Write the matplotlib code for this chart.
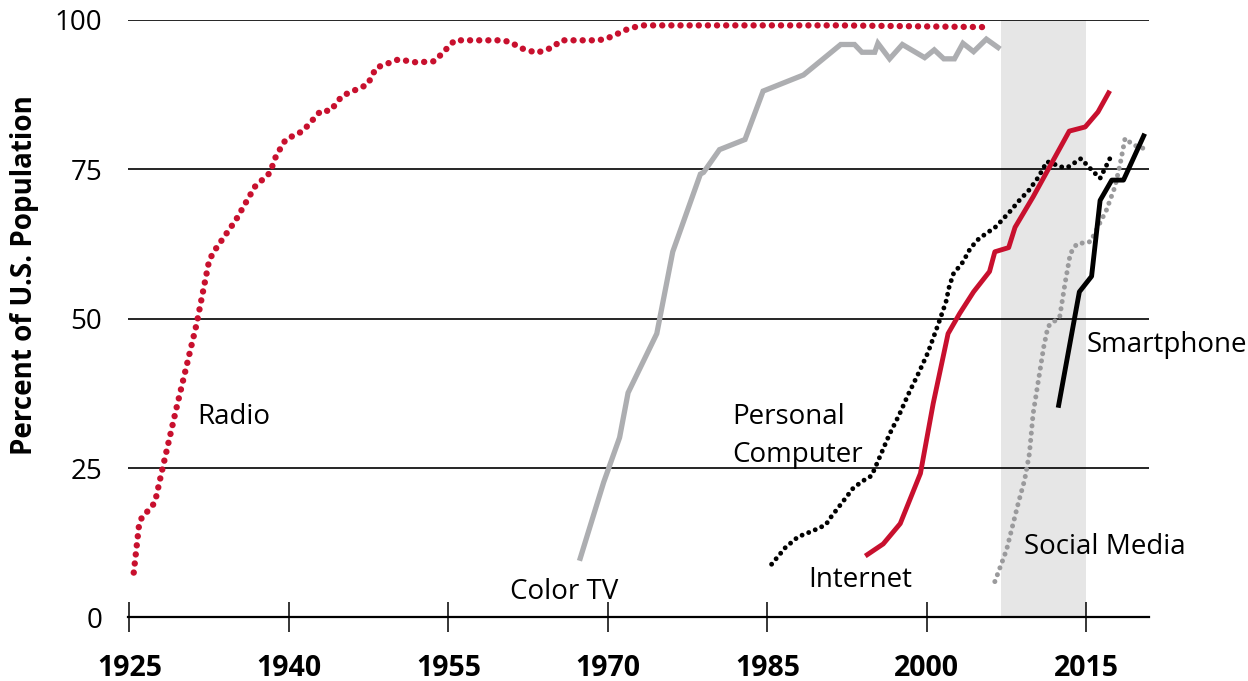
import matplotlib
matplotlib.use("Agg")
import matplotlib.pyplot as plt

# ---------------- data ----------------
radio_years = [1925.4, 1925.9, 1926.2, 1926.9, 1927.4, 1928.0, 1929.4, 1931.3, 1932.5, 1933.0,
               1935.0, 1936.8, 1938.2, 1938.8, 1939.7, 1941.3, 1943.0, 1943.9, 1945.0, 1947.4,
               1948.2, 1950.3, 1952.0, 1953.7, 1955.0, 1955.6, 1960.1, 1961.0, 1961.6, 1963.3,
               1964.8, 1965.6, 1969.1, 1969.9, 1970.8, 1971.6, 1972.5, 1973.3, 1991.6, 2006.0]
radio_vals = [7.5, 15.5, 16.9, 18.1, 19.3, 24.1, 34.9, 49.0, 59.8, 61.4,
              66.5, 72.1, 74.4, 77.3, 80.0, 81.4, 84.8, 84.8, 87.3, 89.2,
              92.0, 93.4, 92.9, 93.1, 95.5, 96.6, 96.6, 96.2, 95.4, 94.5,
              95.4, 96.6, 96.6, 96.9, 97.6, 98.3, 98.8, 99.1, 99.1, 98.8]

tv_years = [1967.4, 1969.6, 1971.1, 1971.9, 1974.6, 1976.1, 1978.7, 1979.0, 1980.5, 1982.9,
            1984.6, 1988.4, 1991.9, 1993.2, 1993.9, 1995.1, 1995.4, 1996.5, 1997.7, 1999.8,
            2000.7, 2001.6, 2002.6, 2003.4, 2004.4, 2005.6, 2006.7]
tv_vals = [9.9, 22.6, 30.1, 37.6, 47.5, 61.2, 74.2, 74.5, 78.3, 80.0,
           88.1, 90.8, 95.9, 95.9, 94.6, 94.6, 96.1, 93.5, 95.9, 93.7,
           95.0, 93.5, 93.5, 96.1, 94.7, 96.8, 95.4]

pc_years = [1985.4, 1986.7, 1987.9, 1989.3, 1990.5, 1990.9, 1992.2, 1993.1, 1994.2, 1994.8,
            1995.1, 1996.5, 1997.4, 1998.3, 1999.2, 2000.1, 2001.1, 2001.8, 2002.1, 2002.5,
            2003.4, 2004.1, 2004.9, 2006.5, 2007.8, 2008.7, 2009.6, 2010.5, 2011.3, 2012.7,
            2013.3, 2014.5, 2015.5, 2016.3, 2017.3]
pc_vals = [8.9, 11.7, 13.5, 14.5, 15.5, 16.6, 19.6, 21.7, 23.1, 23.7,
           24.9, 30.7, 33.9, 37.5, 40.8, 44.3, 49.2, 52.8, 55.3, 57.5,
           59.5, 61.8, 63.4, 65.4, 67.9, 69.8, 71.5, 73.7, 76.3, 75.4,
           75.4, 76.8, 74.9, 73.5, 77.1]

net_years = [1994.4, 1995.9, 1997.5, 1999.4, 2000.6, 2002.0, 2003.1, 2004.4, 2005.9, 2006.4,
             2007.7, 2008.3, 2010.0, 2013.4, 2014.9, 2016.1, 2017.1]
net_vals = [10.5, 12.3, 15.7, 24.1, 35.8, 47.5, 50.9, 54.5, 57.9, 61.2,
            61.9, 65.3, 70.4, 81.4, 82.1, 84.6, 87.8]

sp_years = [2012.4, 2014.35, 2015.5, 2016.3, 2017.4, 2018.5, 2020.4]
sp_vals = [35.5, 54.5, 57.1, 69.8, 73.2, 73.2, 80.6]

sm_years = [2006.4, 2007.5, 2008.6, 2009.2, 2009.65, 2010.0, 2010.5, 2011.0, 2011.4, 2012.5,
            2013.0, 2013.5, 2014.1, 2015.4, 2016.1, 2016.9, 2017.7, 2018.2, 2018.65, 2019.4, 2020.4]
sm_vals = [6.0, 11.3, 19.1, 23.0, 27.4, 34.1, 39.7, 45.3, 48.7, 50.3,
           55.9, 60.9, 62.5, 62.9, 65.4, 68.2, 72.1, 76.0, 80.2, 79.1, 78.5]

x_ticks = [1925, 1940, 1955, 1970, 1985, 2000, 2015]
y_ticks = [0, 25, 50, 75, 100]
shade_span = (2007, 2015)

labels = ["Radio", "Color TV", "Personal\nComputer", "Internet", "Social Media", "Smartphone"]
label_x = [1931.4, 1960.8, 1981.66, 1988.86, 2009.1, 2015.05]
label_y = [32.3, 3.1, 26.0, 5.1, 10.6, 44.5]

# ---------------- styling ----------------
RED = "#c8102e"
TV_GRAY = "#adaeb1"
SM_GRAY = "#9a9a9c"
FONT = ["Open Sans", "DejaVu Sans"]
plt.rcParams["font.family"] = FONT

W, H = 1248, 681
fig = plt.figure(figsize=(W / 100, H / 100), dpi=100)
left_px, right_px, top_px, bot_px = 128, 1149, 20, 617.4
ax = fig.add_axes([left_px / W, (H - bot_px) / H, (right_px - left_px) / W, (bot_px - top_px) / H])

ax.set_xlim(1924.86, 2020.9)
ax.set_ylim(0, 100)

ax.axvspan(*shade_span, color="#e6e6e6", lw=0, zorder=0)

for s in ["top", "right", "left"]:
    ax.spines[s].set_visible(False)
ax.spines["bottom"].set_linewidth(1.6)
ax.spines["bottom"].set_zorder(5)

ax.set_yticks(y_ticks)
ax.set_yticklabels([str(v) for v in y_ticks])
ax.yaxis.grid(True, color="black", lw=1.2, zorder=1)
ax.set_axisbelow(True)
ax.tick_params(axis="y", length=0, pad=18.5, labelsize=20)

ax.set_xticks(x_ticks)
ax.set_xticklabels([str(v) for v in x_ticks], fontweight="bold", fontsize=20.5)
ax.tick_params(axis="x", direction="inout", length=21, width=1.1, pad=15.5)

def dotted(gap):
    return (0, (0.01, gap))

ax.plot(radio_years, radio_vals, color=RED, lw=4.6, linestyle=dotted(1.42),
        dash_capstyle="round", zorder=3)
ax.plot(tv_years, tv_vals, color=TV_GRAY, lw=3.8, solid_joinstyle="miter", zorder=3)
ax.plot(pc_years, pc_vals, color="black", lw=3.5, linestyle=dotted(1.45),
        dash_capstyle="round", zorder=3)
ax.plot(sm_years, sm_vals, color=SM_GRAY, lw=3.6, linestyle=dotted(1.45),
        dash_capstyle="round", zorder=3)
ax.plot(net_years, net_vals, color=RED, lw=3.5, zorder=4)
ax.plot(sp_years, sp_vals, color="black", lw=3.5, zorder=4)

for t, x, y in zip(labels, label_x, label_y):
    ax.text(x, y, t, fontsize=20, ha="left", va="baseline", linespacing=1.5, zorder=6)

fig.text(25 / W, 1 - 275 / H, "Percent of U.S. Population", rotation=90,
         fontsize=20, fontweight="bold", ha="center", va="center")

fig.savefig("out.png", dpi=100)
